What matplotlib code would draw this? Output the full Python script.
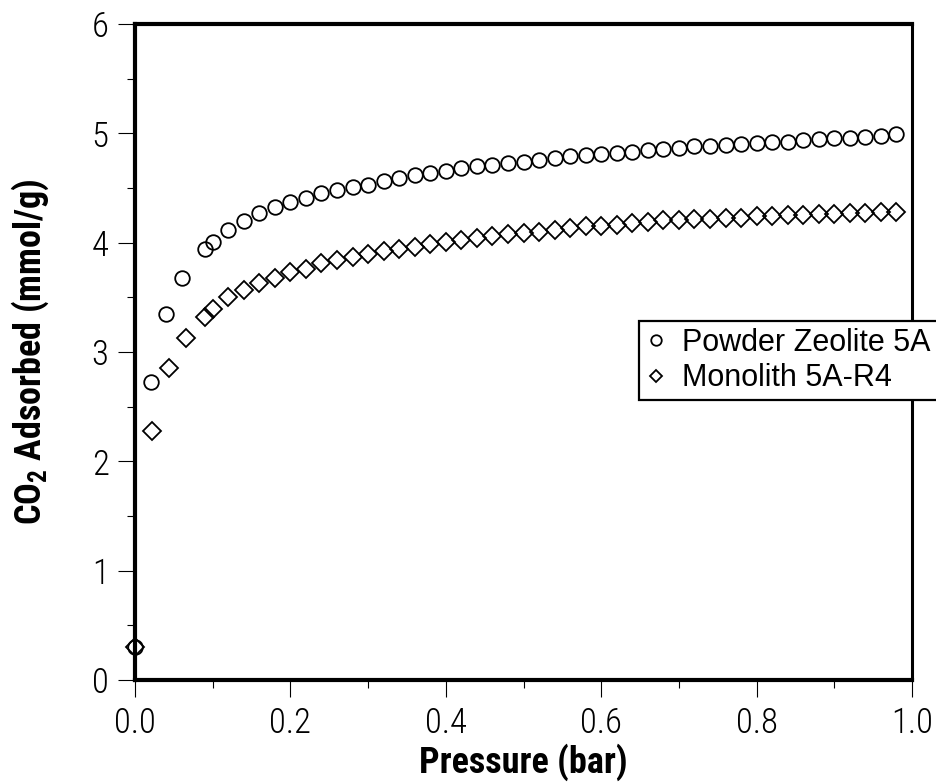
import matplotlib
matplotlib.use("Agg")
import matplotlib.pyplot as plt
from matplotlib import font_manager
from matplotlib.ticker import MultipleLocator

# 原图是窄体字，找一个装了的窄体，没有就用普通 Liberation Sans
names = {f.name for f in font_manager.fontManager.ttflist}
narrow = "Liberation Sans"
for cand in ["Liberation Sans Narrow", "Roboto Condensed", "Open Sans Condensed"]:
    if cand in names:
        narrow = cand
        break
is_narrow = narrow != "Liberation Sans"
tick_size = 25 if is_narrow else 23
label_size = 26 if is_narrow else 23.5

plt.rcParams['font.family'] = [narrow, 'DejaVu Sans']
plt.rcParams['mathtext.fontset'] = 'custom'
plt.rcParams['mathtext.rm'] = narrow
plt.rcParams['mathtext.bf'] = narrow + ':bold'

# 数据 (从图上读的)
pressure_powder = [0.0, 0.02, 0.04, 0.06, 0.09, 0.10, 0.12, 0.14, 0.16, 0.18,
                   0.20, 0.22, 0.24, 0.26, 0.28, 0.30, 0.32, 0.34, 0.36, 0.38,
                   0.40, 0.42, 0.44, 0.46, 0.48, 0.50, 0.52, 0.54, 0.56, 0.58,
                   0.60, 0.62, 0.64, 0.66, 0.68, 0.70, 0.72, 0.74, 0.76, 0.78,
                   0.80, 0.82, 0.84, 0.86, 0.88, 0.90, 0.92, 0.94, 0.96, 0.98]
powder_5a = [0.30, 2.73, 3.35, 3.68, 3.94, 4.01, 4.12, 4.20, 4.27, 4.33,
             4.37, 4.41, 4.45, 4.48, 4.51, 4.53, 4.56, 4.59, 4.62, 4.64,
             4.66, 4.68, 4.70, 4.71, 4.73, 4.74, 4.76, 4.77, 4.79, 4.80,
             4.81, 4.82, 4.83, 4.85, 4.86, 4.87, 4.88, 4.885, 4.89, 4.90,
             4.91, 4.92, 4.925, 4.935, 4.945, 4.955, 4.96, 4.97, 4.98, 4.99]

pressure_mono = [0.0, 0.022, 0.044, 0.066, 0.09, 0.10, 0.12, 0.14, 0.16, 0.18,
                 0.20, 0.22, 0.24, 0.26, 0.28, 0.30, 0.32, 0.34, 0.36, 0.38,
                 0.40, 0.42, 0.44, 0.46, 0.48, 0.50, 0.52, 0.54, 0.56, 0.58,
                 0.60, 0.62, 0.64, 0.66, 0.68, 0.70, 0.72, 0.74, 0.76, 0.78,
                 0.80, 0.82, 0.84, 0.86, 0.88, 0.90, 0.92, 0.94, 0.96, 0.98]
monolith_r4 = [0.30, 2.28, 2.85, 3.13, 3.32, 3.39, 3.50, 3.57, 3.63, 3.68,
               3.73, 3.76, 3.81, 3.84, 3.87, 3.90, 3.92, 3.94, 3.96, 3.99,
               4.01, 4.02, 4.04, 4.06, 4.08, 4.09, 4.10, 4.12, 4.13, 4.15,
               4.15, 4.16, 4.18, 4.19, 4.21, 4.21, 4.22, 4.22, 4.23, 4.23,
               4.24, 4.24, 4.25, 4.25, 4.26, 4.26, 4.27, 4.27, 4.28, 4.28]

series_labels = ["Powder Zeolite 5A", "Monolith 5A-R4"]

fig = plt.figure(figsize=(9.36, 7.84), dpi=100)
ax = fig.add_axes([135 / 936, 104 / 784, 777 / 936, 656 / 784])

ax.plot(pressure_powder, powder_5a, linestyle='none', marker='o', ms=10.5,
        mfc='none', mec='black', mew=1.3, clip_on=False, label=series_labels[0])
ax.plot(pressure_mono, monolith_r4, linestyle='none', marker='D', ms=9,
        mfc='none', mec='black', mew=1.3, clip_on=False, label=series_labels[1])

ax.set_xlim(0, 1.0)
ax.set_ylim(0, 6)
ax.xaxis.set_major_locator(MultipleLocator(0.2))
ax.xaxis.set_minor_locator(MultipleLocator(0.1))
ax.yaxis.set_major_locator(MultipleLocator(1))
ax.yaxis.set_minor_locator(MultipleLocator(0.5))
ax.xaxis.set_major_formatter(plt.FuncFormatter(lambda v, p: "%.1f" % v))

ax.tick_params(which='major', direction='out', length=12, width=0.8,
               labelsize=tick_size, pad=7)
ax.tick_params(which='minor', direction='out', length=6, width=0.8)
ax.tick_params(top=False, right=False, which='both')
for lab in ax.get_xticklabels() + ax.get_yticklabels():
    lab.set_fontweight('light')

for side in ['left', 'bottom', 'top']:
    ax.spines[side].set_linewidth(3)
ax.spines['right'].set_linewidth(2.2)

ax.set_xlabel("Pressure (bar)", fontsize=label_size, fontweight='bold')
ax.set_ylabel(r"CO$_\mathbf{2}$ Adsorbed (mmol/g)", fontsize=label_size,
              fontweight='bold')
ax.xaxis.label.set_va('center')
ax.yaxis.label.set_va('center')
ax.xaxis.set_label_coords(0.5, (680 - 762) / 656)
ax.yaxis.set_label_coords((30 - 135) / 777, 0.5)

leg = ax.legend(loc='upper left', bbox_to_anchor=(639 / 936, (784 - 321) / 784),
                bbox_transform=fig.transFigure, borderaxespad=0,
                prop={'family': 'Liberation Sans', 'size': 22},
                markerscale=0.72, handlelength=0.7, handletextpad=0.5,
                borderpad=0.22, labelspacing=0.18, fancybox=False,
                framealpha=1, edgecolor='black')
leg.get_frame().set_linewidth(1.6)
leg.set_zorder(10)

fig.savefig("out.png", dpi=100)
